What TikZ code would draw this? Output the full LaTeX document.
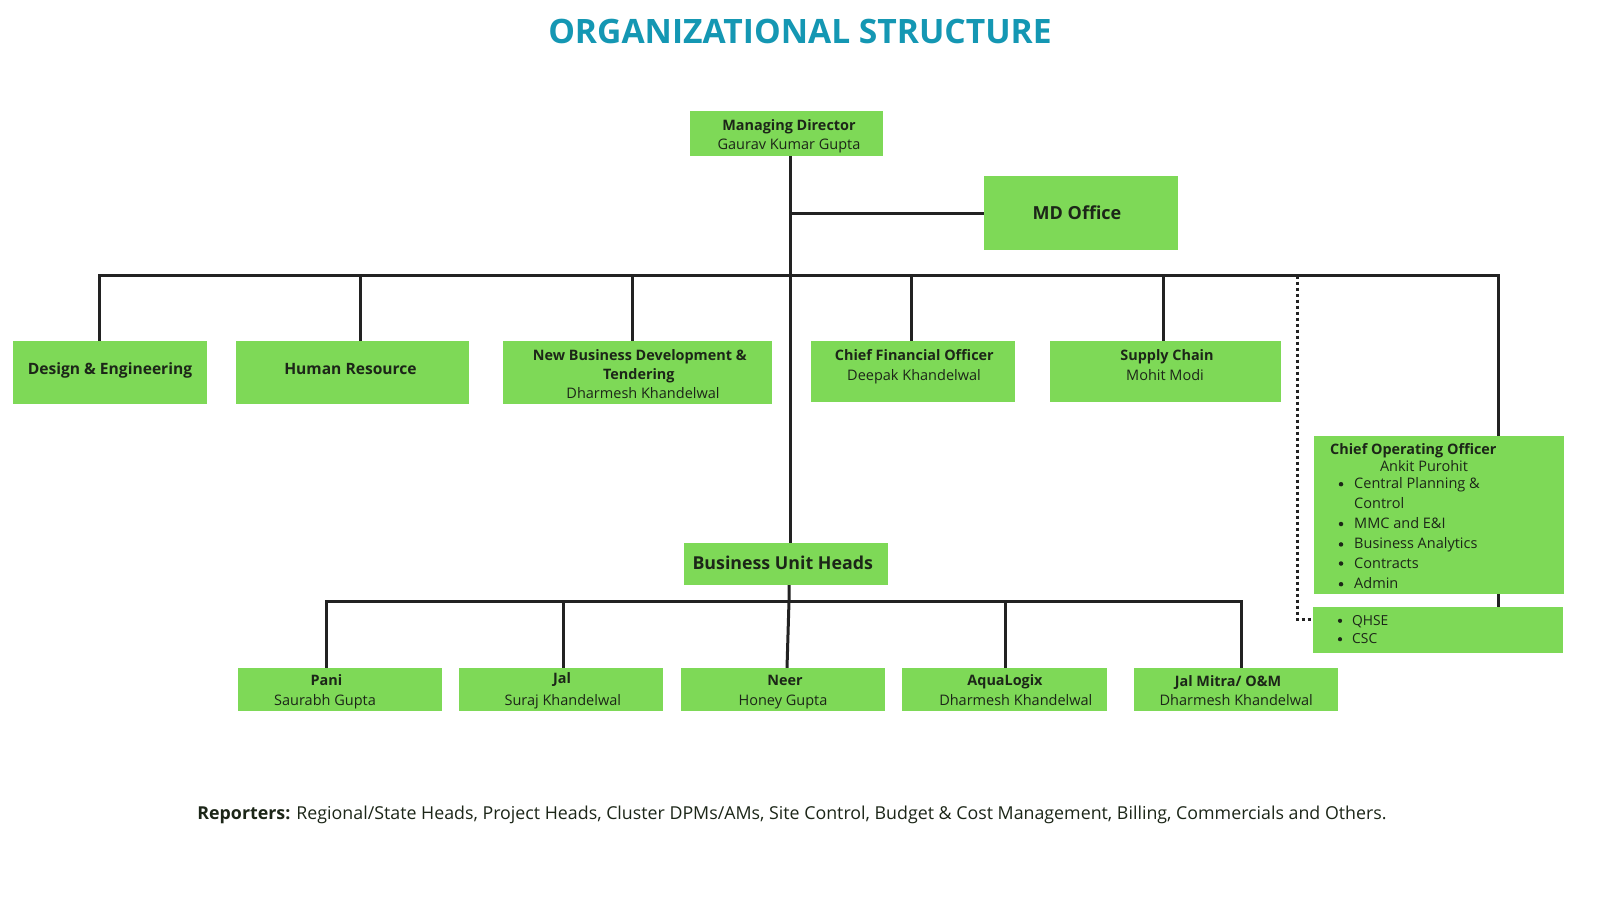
\documentclass[tikz,border=0pt]{standalone}
\usepackage{fontspec}
\setmainfont{Open Sans}
\definecolor{boxg}{HTML}{7ED957}
\definecolor{ttl}{HTML}{1497B3}
\definecolor{ink}{HTML}{1C2618}
\definecolor{lne}{HTML}{222222}
\begin{document}
\begin{tikzpicture}[x=1pt,y=-1pt,
  box/.style={fill=boxg, inner sep=0pt},
  conn/.style={draw=lne, line width=3pt},
  dotline/.style={draw=lne, line width=3pt, dash pattern=on 3pt off 3pt},
  nm/.style={inner sep=0pt, text=ink, anchor=base, font=\fontsize{14.5}{18}\selectfont},
  hd/.style={inner sep=0pt, text=ink, anchor=base, font=\fontsize{14.4}{18}\selectfont\bfseries},
  big/.style={inner sep=0pt, text=ink, anchor=base, font=\fontsize{15.6}{19}\selectfont\bfseries},
  bul/.style={circle, fill=ink, inner sep=0pt, minimum size=4.5pt},
]
\useasboundingbox (0,0) rectangle (1600,900);
\fill[white] (0,0) rectangle (1600,900);

% title
\node[inner sep=0pt, text=ttl, font=\fontsize{33.6}{40}\selectfont\bfseries] (title) at (800,31) {ORGANIZATIONAL STRUCTURE};

% boxes
\node[box, minimum width=193pt, minimum height=45pt] (md) at (786.5,133.5) {};
\node[box, minimum width=194pt, minimum height=74pt] (mdo) at (1081,213) {};
\node[box, minimum width=194pt, minimum height=63pt] (de) at (110,372.5) {};
\node[box, minimum width=233pt, minimum height=63pt] (hr) at (352.5,372.5) {};
\node[box, minimum width=269pt, minimum height=63pt] (nbd) at (637.5,372.5) {};
\node[box, minimum width=204pt, minimum height=61pt] (cfo) at (913,371.5) {};
\node[box, minimum width=231pt, minimum height=61pt] (sc) at (1165.5,371.5) {};
\node[box, minimum width=250pt, minimum height=158pt] (coo) at (1439,515) {};
\node[box, minimum width=250pt, minimum height=46pt] (qhse) at (1438,630) {};
\node[box, minimum width=204pt, minimum height=42pt] (buh) at (786,564) {};
\node[box, minimum width=204pt, minimum height=43pt] (pani) at (340,689.5) {};
\node[box, minimum width=204pt, minimum height=43pt] (jal) at (561,689.5) {};
\node[box, minimum width=204pt, minimum height=43pt] (neer) at (783,689.5) {};
\node[box, minimum width=205pt, minimum height=43pt] (aqua) at (1004.5,689.5) {};
\node[box, minimum width=204pt, minimum height=43pt] (jm) at (1236,689.5) {};

% box texts
\node[hd] (mdT) at (789,130.5) {Managing Director};
\node[nm] (mdN) at (789,149) {Gaurav Kumar Gupta};
\node[inner sep=0pt, text=ink, anchor=base, font=\fontsize{18}{22}\selectfont\bfseries] (mdoT) at (1077,219.5) {MD Office};
\node[big] (deT) at (110,374) {Design \& Engineering};
\node[big] (hrT1) at (350.5,374) {Human Resource};
\node[hd] (nbdT1) at (639.8,360) {New Business Development \&};
\node[hd] (nbdT2) at (638.8,379.5) {Tendering};
\node[nm] (nbdN) at (643,398) {Dharmesh Khandelwal};
\node[hd] (cfoT1) at (914.3,360) {Chief Financial Officer};
\node[nm] (cfoN) at (914,380.5) {Deepak Khandelwal};
\node[hd] (scT1) at (1167,360) {Supply Chain};
\node[nm] (scN) at (1165,380.5) {Mohit Modi};

% COO texts
\node[hd, anchor=base west] (cooT) at (1330,454) {Chief Operating Officer};
\node[nm] (cooN) at (1424,471.3) {Ankit Purohit};
\node[bul] (b1) at (1341,484.2) {};
\node[nm, anchor=base west] (l1) at (1354,488.7) {Central Planning \&};
\node[nm, anchor=base west] (l1b) at (1354,508) {Control};
\node[bul] (b2) at (1341,524) {};
\node[nm, anchor=base west] (l2) at (1354,528.5) {MMC and E\&I};
\node[bul] (b3) at (1341,544.4) {};
\node[nm, anchor=base west] (l3) at (1354,548.9) {Business Analytics};
\node[bul] (b4) at (1341,563.5) {};
\node[nm, anchor=base west] (l4) at (1354,568) {Contracts};
\node[bul] (b5) at (1341,584.2) {};
\node[nm, anchor=base west] (l5) at (1354,588.7) {Admin};
\node[bul, minimum size=4.2pt] (q1b) at (1340,620.8) {};
\node[nm, anchor=base west, font=\fontsize{13.8}{17}\selectfont] (q1) at (1352,625) {QHSE};
\node[bul, minimum size=4.2pt] (q2b) at (1340,639.2) {};
\node[nm, anchor=base west, font=\fontsize{13.8}{17}\selectfont] (q2) at (1352,643.5) {CSC};

% BU texts
\node[inner sep=0pt, text=ink, anchor=base, font=\fontsize{17.8}{21}\selectfont\bfseries] (buhT) at (782.7,569.8) {Business Unit Heads};
\node[hd] (paniT) at (326.5,685.6) {Pani};
\node[nm] (paniN) at (325,705) {Saurabh Gupta};
\node[hd] (jalT1) at (562,683.6) {Jal};
\node[nm] (jalN) at (562.8,705) {Suraj Khandelwal};
\node[hd] (neerT) at (785,685.6) {Neer};
\node[nm] (neerN) at (783,705) {Honey Gupta};
\node[hd] (aquaT1) at (1005,685.6) {AquaLogix};
\node[nm] (aquaN) at (1015.8,705) {Dharmesh Khandelwal};
\node[hd] (jmT) at (1228,686.6) {Jal Mitra/ O\&M};
\node[nm] (jmN) at (1236.2,705) {Dharmesh Khandelwal};

% reporters
\node[inner sep=0pt, text=ink, anchor=base, font=\fontsize{17.8}{21}\selectfont] (rep) at (792,819) {\textbf{Reporters:} Regional/State Heads, Project Heads, Cluster DPMs/AMs, Site Control, Budget \& Cost Management, Billing, Commercials and Others.};

% connectors
\coordinate (tk) at (790,275.5);
\coordinate (busL) at (99,275.5);
\coordinate (busR) at (1498,275.5);
\coordinate (hrC) at (360,275.5);
\coordinate (nbdC) at (632,275.5);
\coordinate (cfoC) at (911,275.5);
\coordinate (scC) at (1163,275.5);
\coordinate (dotT) at (1297,275.5);
\coordinate (dotB) at (1297,619);
\coordinate (lbL) at (326.5,601);
\coordinate (lbM) at (789,601);
\coordinate (lbR) at (1241,601);
\coordinate (jalC) at (563,601);
\coordinate (aquaC) at (1005,601);

\draw[conn] (md.south -| tk) -- (buh.north -| tk);
\draw[conn] (tk |- mdo.west) -- (mdo.west);
\draw[conn] (de.north -| busL) -- (busL) -- (busR) -- (coo.north -| busR);
\draw[conn] (coo.south -| busR) -- (qhse.north -| busR);
\draw[conn] (hrC) -- (hr.north -| hrC);
\draw[conn] (nbdC) -- (nbd.north -| nbdC);
\draw[conn] (cfoC) -- (cfo.north -| cfoC);
\draw[conn] (scC) -- (sc.north -| scC);
\draw[dotline] (dotT) -- (dotB) -- (dotB -| qhse.west);

\draw[conn] (buh.south -| lbM) -- (lbM) -- ([xshift=4pt]neer.north);
\draw[conn] (pani.north -| lbL) -- (lbL) -- (lbR) -- (jm.north -| lbR);
\draw[conn] (jalC) -- (jal.north -| jalC);
\draw[conn] (aquaC) -- (aqua.north -| aquaC);
\end{tikzpicture}
\end{document}
